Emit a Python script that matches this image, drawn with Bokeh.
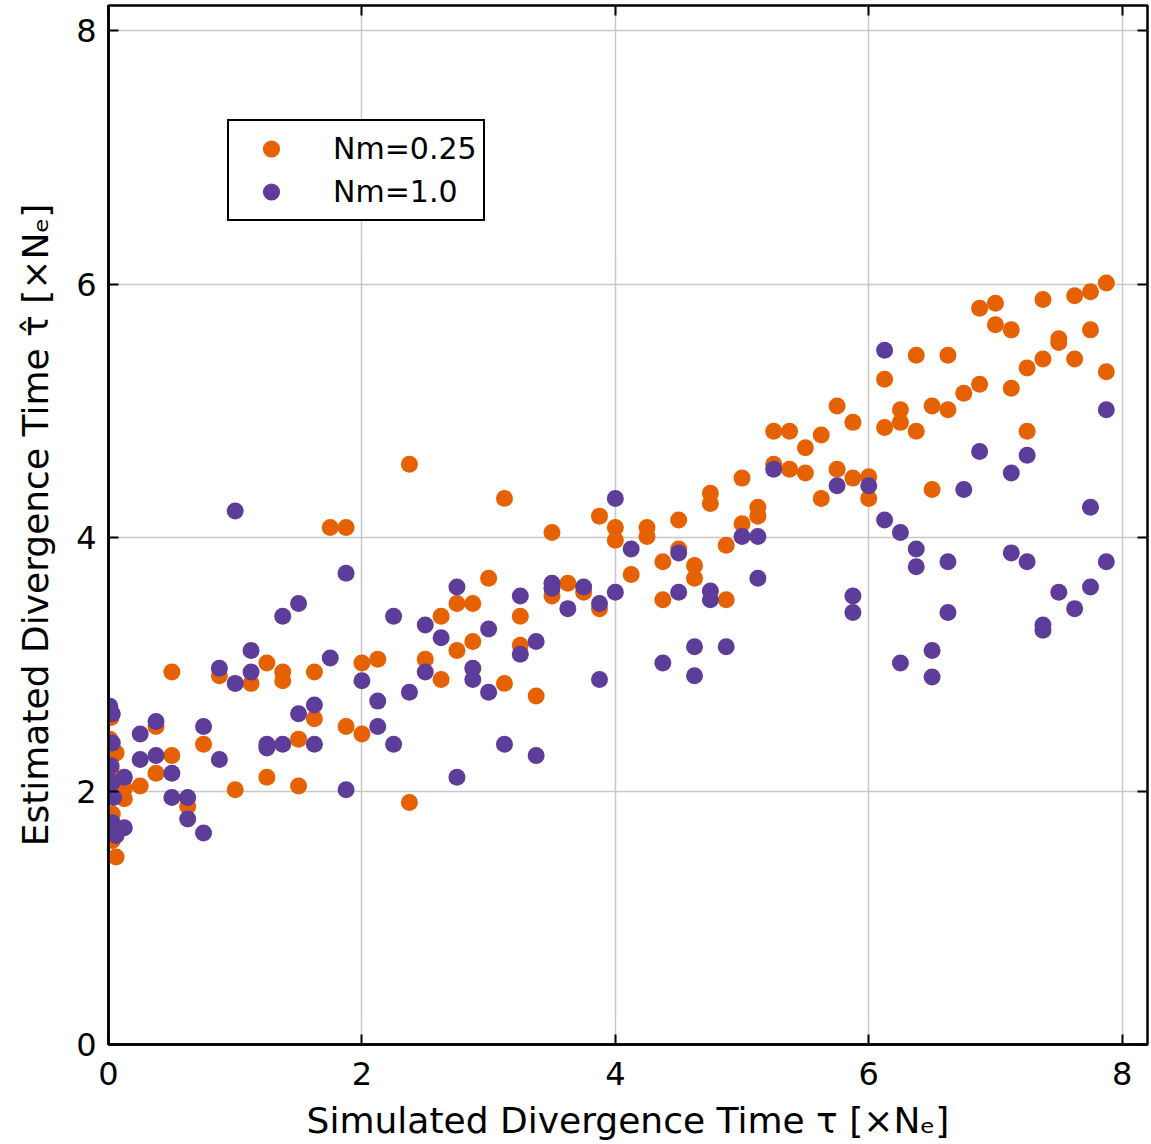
from bokeh.plotting import figure
from bokeh.models import Range1d, LinearAxis, Legend, LegendItem, FixedTicker
from bokeh.embed import file_html
from bokeh.resources import INLINE

# Nm = 0.25 series (orange)
orange_x = [0.02, 0.01, 0.06, 0.02, 0.125, 0.125, 0.03, 0.03, 0.06,
            0.25, 0.375, 0.375, 0.5, 0.5, 0.625, 0.75, 0.875, 1.0,
            1.125, 1.25, 1.25, 1.375, 1.375, 1.5, 1.5, 1.625, 1.625,
            1.75, 1.875, 1.875, 2.0, 2.0, 2.125, 2.375, 2.375, 2.5,
            2.625, 2.625, 2.75, 2.75, 2.875, 2.875, 3.0, 3.125, 3.125,
            3.25, 3.25, 3.375, 3.5, 3.5, 3.625, 3.75, 3.875, 3.875,
            4.0, 4.0, 4.125, 4.25, 4.25, 4.375, 4.375, 4.5, 4.5,
            4.625, 4.625, 4.75, 4.75, 4.875, 4.875, 5.0, 5.0, 5.125, 5.125,
            5.25, 5.25, 5.375, 5.375, 5.5, 5.5, 5.625, 5.625, 5.75, 5.75,
            5.875, 5.875, 6.0, 6.0, 6.125, 6.125, 6.25, 6.25, 6.375, 6.375,
            6.5, 6.5, 6.625, 6.625, 6.75, 6.875, 6.875, 7.0, 7.0,
            7.125, 7.125, 7.25, 7.25, 7.375, 7.375, 7.5, 7.5,
            7.625, 7.625, 7.75, 7.75, 7.875, 7.875]
orange_y = [2.58, 2.41, 2.30, 2.18, 2.02, 1.94, 1.82, 1.61, 1.48,
            2.04, 2.51, 2.14, 2.94, 2.28, 1.88, 2.37, 2.91, 2.01,
            2.85, 3.01, 2.11, 2.94, 2.87, 2.41, 2.04, 2.94, 2.57,
            4.08, 4.08, 2.51, 3.01, 2.45, 3.04, 4.58, 1.91, 3.04,
            3.38, 2.88, 3.48, 3.11, 3.48, 3.18, 3.68, 4.31, 2.85,
            3.38, 3.15, 2.75, 4.04, 3.54, 3.64, 3.57, 4.17, 3.44,
            4.08, 3.98, 3.71, 4.08, 4.01, 3.81, 3.51, 4.14, 3.91,
            3.78, 3.68, 4.35, 4.27, 3.94, 3.51, 4.47, 4.11, 4.24, 4.17,
            4.84, 4.58, 4.84, 4.54, 4.71, 4.51, 4.81, 4.31, 5.04, 4.54,
            4.91, 4.47, 4.48, 4.31, 5.25, 4.87, 5.01, 4.91, 5.44, 4.84,
            5.04, 4.38, 5.44, 5.01, 5.14, 5.81, 5.21, 5.85, 5.68,
            5.64, 5.18, 5.34, 4.84, 5.88, 5.41, 5.57, 5.54,
            5.91, 5.41, 5.94, 5.64, 6.01, 5.31]

# Nm = 1.0 series (purple)
purple_x = [0.01, 0.03, 0.03, 0.02, 0.125, 0.03, 0.04, 0.03, 0.125, 0.06,
            0.25, 0.25, 0.375, 0.375, 0.5, 0.5, 0.625, 0.625, 0.75, 0.75,
            0.875, 0.875, 1.0, 1.0, 1.125, 1.125, 1.25, 1.25, 1.375, 1.375,
            1.5, 1.5, 1.625, 1.625, 1.75, 1.875, 1.875, 2.0, 2.125, 2.125,
            2.25, 2.25, 2.375, 2.5, 2.5, 2.625, 2.75, 2.75, 2.875, 2.875,
            3.0, 3.0, 3.125, 3.25, 3.25, 3.375, 3.375, 3.5, 3.5, 3.625,
            3.75, 3.875, 3.875, 4.0, 4.0, 4.125, 4.375, 4.5, 4.5, 4.625,
            4.625, 4.75, 4.75, 4.875, 5.0, 5.125, 5.125, 5.25, 5.75, 5.875,
            5.875, 6.0, 6.125, 6.125, 6.25, 6.25, 6.375, 6.375, 6.5, 6.5,
            6.625, 6.625, 6.75, 6.875, 7.125, 7.125, 7.25, 7.25, 7.375, 7.375,
            7.5, 7.625, 7.75, 7.75, 7.875, 7.875]
purple_y = [2.67, 2.61, 2.38, 2.20, 2.11, 2.07, 1.95, 1.75, 1.71, 1.65,
            2.45, 2.25, 2.55, 2.28, 2.14, 1.95, 1.95, 1.78, 2.51, 1.67,
            2.97, 2.25, 4.21, 2.85, 3.11, 2.94, 2.37, 2.34, 3.38, 2.37,
            3.48, 2.61, 2.68, 2.37, 3.05, 3.72, 2.01, 2.87, 2.71, 2.51,
            3.38, 2.37, 2.78, 3.31, 2.94, 3.21, 3.61, 2.11, 2.97, 2.88,
            3.28, 2.78, 2.37, 3.54, 3.08, 3.18, 2.28, 3.64, 3.60, 3.44,
            3.61, 3.48, 2.88, 4.31, 3.57, 3.91, 3.01, 3.88, 3.57, 3.14,
            2.91, 3.58, 3.51, 3.14, 4.01, 4.01, 3.68, 4.54, 4.41, 3.54,
            3.41, 4.41, 5.48, 4.14, 4.04, 3.01, 3.91, 3.77, 3.11, 2.90,
            3.81, 3.41, 4.38, 4.68, 4.51, 3.88, 4.65, 3.81, 3.31, 3.27,
            3.57, 3.44, 4.24, 3.61, 5.01, 3.81]

series_labels = ["Nm=0.25", "Nm=1.0"]
series_colors = ["#e66101", "#5e3c99"]
tick_values = [0, 2, 4, 6, 8]
x_title = "Simulated Divergence Time \u03c4 [\u00d7N\u2091]"
y_title = "Estimated Divergence Time \u03c4\u0302 [\u00d7N\u2091]"

FONT = "DejaVu Sans"

p = figure(frame_width=1039, frame_height=1039,
           x_range=Range1d(0, 8.2), y_range=Range1d(0, 8.2),
           output_backend="svg", toolbar_location=None,
           min_border_left=108, min_border_right=4,
           min_border_top=5, min_border_bottom=99)

p.background_fill_color = "white"
p.border_fill_color = "white"
p.outline_line_color = "black"
p.outline_line_width = 2.5

for ax in (p.xaxis[0], p.yaxis[0]):
    ax.ticker = FixedTicker(ticks=tick_values)
    ax.major_tick_in = 10
    ax.major_tick_out = 0
    ax.minor_tick_in = 0
    ax.minor_tick_out = 0
    ax.major_tick_line_width = 2
    ax.major_tick_line_color = "black"
    ax.axis_line_color = "black"
    ax.axis_line_width = 2.5
    ax.major_label_text_font = FONT
    ax.major_label_text_font_size = "32px"
    ax.major_label_text_color = "black"
    ax.axis_label_text_font = FONT
    ax.axis_label_text_font_size = "36px"
    ax.axis_label_text_font_style = "normal"
    ax.axis_label_text_color = "black"

p.xaxis.axis_label = x_title
p.yaxis.axis_label = y_title
p.xaxis.major_label_standoff = 17
p.xaxis.axis_label_standoff = 12
p.yaxis.major_label_standoff = 12
p.yaxis.axis_label_standoff = 17

# inward ticks on the top and right edges (drawn as label-free minor ticks)
for loc in ("above", "right"):
    ax = LinearAxis(ticker=FixedTicker(ticks=[], minor_ticks=tick_values),
                    major_tick_in=0, major_tick_out=0,
                    minor_tick_in=10, minor_tick_out=0,
                    minor_tick_line_width=2, minor_tick_line_color="black",
                    axis_line_color=None,
                    major_label_standoff=0)
    p.add_layout(ax, loc)

p.xgrid.grid_line_color = "#c8c8c8"
p.ygrid.grid_line_color = "#c8c8c8"
p.xgrid.grid_line_width = 1.5
p.ygrid.grid_line_width = 1.5

r1 = p.scatter(orange_x, orange_y, size=17, fill_color=series_colors[0],
               line_color=None)
r2 = p.scatter(purple_x, purple_y, size=17, fill_color=series_colors[1],
               line_color=None)

legend = Legend(items=[LegendItem(label=series_labels[0], renderers=[r1]),
                       LegendItem(label=series_labels[1], renderers=[r2])],
                location=(119, 823),
                border_line_color="black", border_line_width=2,
                border_line_alpha=1.0,
                background_fill_color="white", background_fill_alpha=1,
                padding=5, spacing=0, margin=0,
                glyph_width=72, glyph_height=43, label_standoff=26,
                label_text_font=FONT, label_text_font_size="30px",
                label_text_color="black")
legend.padding = 6
p.add_layout(legend)

open("out.html", "w").write(file_html(p, INLINE))
